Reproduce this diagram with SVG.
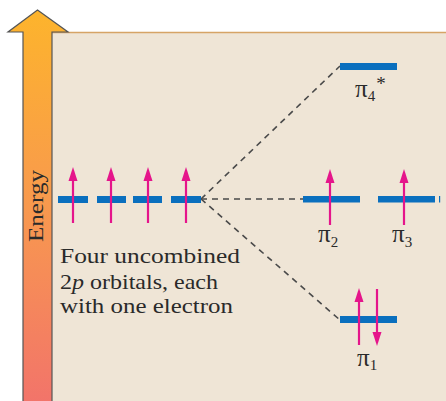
<svg xmlns="http://www.w3.org/2000/svg" width="446" height="401" viewBox="0 0 446 401">
<defs>
<linearGradient id="eg" x1="0" y1="0" x2="0" y2="1">
<stop offset="0" stop-color="#FDB42C"/>
<stop offset="0.5" stop-color="#F8994E"/>
<stop offset="1" stop-color="#F2746A"/>
</linearGradient>
<style>
.bar{fill:#0A6FBE}
.e{stroke:#E5158B;stroke-width:2.2;fill:none}
.eh{fill:#E5158B}
.dash{stroke:#4A4A4A;stroke-width:1.6;stroke-dasharray:6 5;fill:none}
.lbl{font-family:"Liberation Serif",serif;font-size:21px;fill:#2a2a2a}
.pi{font-family:"Liberation Serif",serif;font-size:25px;fill:#2a2a2a}
.sub{font-size:15px}
.ast{font-size:19px}
</style>
</defs>
<rect x="0" y="0" width="446" height="401" fill="#ffffff"/>
<g id="panel">
<rect x="52" y="32" width="400" height="380" fill="#EFE5D6"/>
<line x1="52" y1="32.5" x2="446" y2="32.5" stroke="#D6A466" stroke-width="1.5"/>
</g>
<g id="energy-axis">
<polygon points="37.5,10 68,32 52,32 52,402 23,402 23,32 8,32" fill="url(#eg)" stroke="#555" stroke-width="1.2" stroke-linejoin="miter"/>
<text class="lbl" transform="translate(43,242) rotate(-90)" textLength="72" lengthAdjust="spacingAndGlyphs">Energy</text>
</g>
<g id="connectors">
<line class="dash" x1="201" y1="199" x2="340" y2="66"/>
<line class="dash" x1="201" y1="199" x2="303" y2="199"/>
<line class="dash" x1="201" y1="199" x2="340" y2="320"/>
</g>
<g id="p-orbitals">
<rect class="bar" x="58" y="196" width="30" height="7"/>
<rect class="bar" x="97" y="196" width="29" height="7"/>
<rect class="bar" x="133" y="196" width="29" height="7"/>
<rect class="bar" x="171" y="196" width="30" height="7"/>
<line class="e" x1="73" y1="223" x2="73" y2="176"/><polygon class="eh" points="73,167 68.5,181 77.5,181"/>
<line class="e" x1="111" y1="223" x2="111" y2="176"/><polygon class="eh" points="111,167 106.5,181 115.5,181"/>
<line class="e" x1="148" y1="223" x2="148" y2="176"/><polygon class="eh" points="148,167 143.5,181 152.5,181"/>
<line class="e" x1="186" y1="223" x2="186" y2="176"/><polygon class="eh" points="186,167 181.5,181 190.5,181"/>
<text class="lbl" x="60" y="263" textLength="180" lengthAdjust="spacingAndGlyphs">Four uncombined</text>
<text class="lbl" x="60" y="289" textLength="158" lengthAdjust="spacingAndGlyphs">2<tspan font-style="italic">p</tspan> orbitals, each</text>
<text class="lbl" x="60" y="313" textLength="173" lengthAdjust="spacingAndGlyphs">with one electron</text>
</g>
<g id="pi4">
<rect class="bar" x="340" y="63" width="57" height="7"/>
<text class="pi" x="355" y="97">π<tspan class="sub" dy="4">4</tspan><tspan class="ast" dy="-11" dx="1">*</tspan></text>
</g>
<g id="pi2">
<rect class="bar" x="303" y="196" width="57" height="6.5"/>
<line class="e" x1="330" y1="225" x2="330" y2="178"/><polygon class="eh" points="330,169 325.5,183 334.5,183"/>
<text class="pi" x="318" y="242">π<tspan class="sub" dy="5">2</tspan></text>
</g>
<g id="pi3">
<rect class="bar" x="378" y="196" width="57" height="6.5"/>
<rect class="bar" x="439" y="196" width="1.2" height="6.5"/>
<line class="e" x1="404" y1="225" x2="404" y2="178"/><polygon class="eh" points="404,169 399.5,183 408.5,183"/>
<text class="pi" x="392" y="242">π<tspan class="sub" dy="5">3</tspan></text>
</g>
<g id="pi1">
<rect class="bar" x="340" y="316" width="57" height="7"/>
<line class="e" x1="359" y1="345" x2="359" y2="297"/><polygon class="eh" points="359,288 354.5,302 363.5,302"/>
<line class="e" x1="377" y1="289" x2="377" y2="337"/><polygon class="eh" points="377,346 372.5,332 381.5,332"/>
<text class="pi" x="357" y="366">π<tspan class="sub" dy="4">1</tspan></text>
</g>
</svg>
